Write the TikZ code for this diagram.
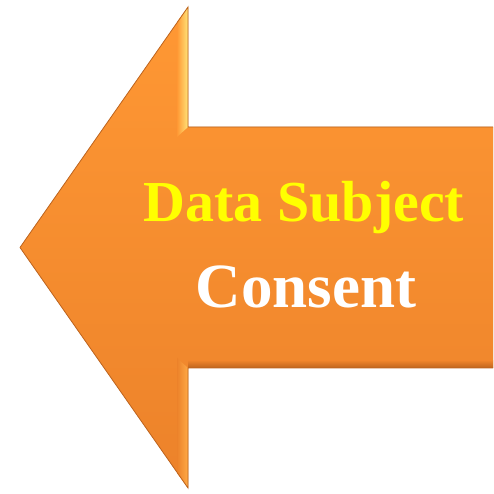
\documentclass[tikz,border=0pt]{standalone}
\usepackage{fontspec}
\setmainfont{Liberation Serif}[BoldFont={Liberation Serif Bold}]
\newfontfamily\lsbold{Liberation Serif Bold}
\usetikzlibrary{shadings}
\definecolor{orTop}{RGB}{255,152,52}
\definecolor{orBot}{RGB}{236,130,42}
\definecolor{orEdge}{RGB}{190,100,30}
\definecolor{bevLight}{RGB}{255,228,120}
\definecolor{bevMid}{RGB}{255,170,70}
\definecolor{txtYellow}{RGB}{255,255,0}
\tikzset{
  arrowbody/.style={top color=orTop,bottom color=orBot},
  edgeline/.style={draw=orEdge,line width=0.8pt,line join=miter},
  labeltext/.style={inner sep=0pt,anchor=base}
}
\begin{document}
\begin{tikzpicture}[x=1pt,y=1pt]
\useasboundingbox (0,0) rectangle (493,494);
% corner coordinates
\coordinate (T) at (20,246.5);
\coordinate (HT) at (188,487);
\coordinate (ST) at (188,367);
\coordinate (R1) at (493,367);
\coordinate (R2) at (493,126);
\coordinate (SB) at (188,126);
\coordinate (HB) at (188,6);
% soft shadow
\foreach \o/\a in {5/0.05,4/0.07,3/0.09,2/0.11}{
  \fill[black,opacity=\a,shift={(\o*0.5,-\o)}] (T) -- (HT) -- (ST) -- (R1) -- (R2) -- (SB) -- (HB) -- cycle;
}
% arrow body
\path[arrowbody] (T) -- (HT) -- (ST) -- (R1) -- (R2) -- (SB) -- (HB) -- cycle;
% bevel strips on head back edges
\shade[left color=orTop,right color=bevLight] (177,472) -- (188,487) -- (188,367) -- (177,357) -- cycle;
\shade[left color=orBot,right color=bevMid] (177,136) -- (188,126) -- (188,6) -- (177,21) -- cycle;
% bottom edge darkening
\shade[top color=orBot,bottom color=orEdge] (188,133) rectangle (493,126);
% outline
\draw[edgeline] (T) -- (HT) -- (ST) -- (R1);
\draw[edgeline] (R2) -- (SB) -- (HB) -- (T);
% text
\node[labeltext,text=txtYellow,font=\lsbold\fontsize{58}{60}\selectfont] (l1) at (304,272) {Data Subject};
\node[labeltext,text=white,font=\lsbold\fontsize{63}{65}\selectfont] (l2) at (306,186) {Consent};
\end{tikzpicture}
\end{document}
